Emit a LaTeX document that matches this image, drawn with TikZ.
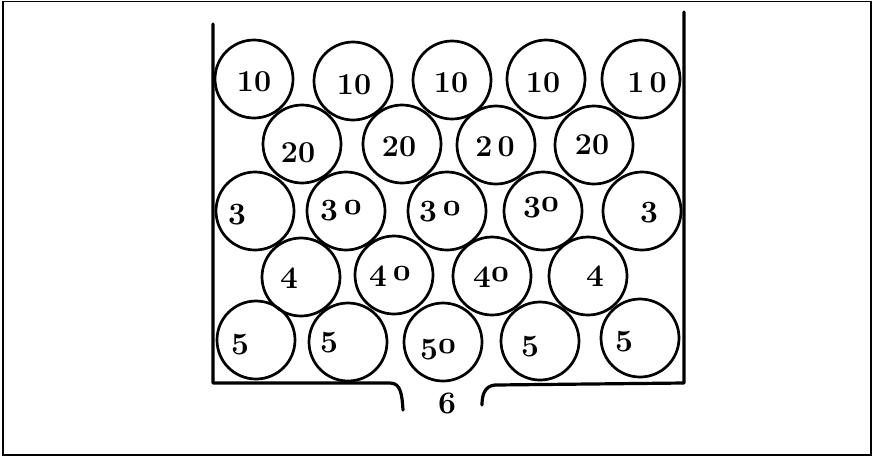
\documentclass[tikz,border=0pt]{standalone}
\newcommand\osnum[1]{{\usefont{OML}{cmm}{b}{it}#1}}
\begin{document}
\begin{tikzpicture}[x=1pt,y=-1pt,
  ball/.style={circle,draw,line width=2.7pt,minimum size=78pt,inner sep=0pt},
  bnum/.style={font=\fontsize{24.88}{26}\selectfont\bfseries,inner sep=0pt,scale=1.22},
  onum/.style={font=\fontsize{24.88}{26}\selectfont,inner sep=0pt,scale=1.25},
  wall/.style={line width=3.2pt,line cap=round,line join=round}]
\useasboundingbox (0,0) rectangle (874,459);
\draw[line width=1.5pt] (3,1.5) rectangle (871,455);
% balls
\node[ball] (a1) at (254,79) {};
\node[ball] (a2) at (353,81) {};
\node[ball] (a3) at (452,80) {};
\node[ball] (a4) at (546,79) {};
\node[ball] (a5) at (641,79) {};
\node[ball] (b1) at (302,144) {};
\node[ball] (b2) at (402,144) {};
\node[ball] (b3) at (496,145) {};
\node[ball] (b4) at (594,145) {};
\node[ball] (c1) at (255,211) {};
\node[ball] (c2) at (346,211) {};
\node[ball] (c3) at (447,211) {};
\node[ball] (c4) at (543,211) {};
\node[ball] (c5) at (642,211) {};
\node[ball] (d1) at (301,277) {};
\node[ball] (d2) at (394,275) {};
\node[ball] (d3) at (492,276) {};
\node[ball] (d4) at (588,276) {};
\node[ball] (e1) at (256,340) {};
\node[ball] (e2) at (348,342) {};
\node[ball] (e3) at (443,342) {};
\node[ball] (e4) at (540,341) {};
\node[ball] (e5) at (640,338) {};
% labels
\node[bnum] (la1) at (254,82) {10};
\node[bnum] (la2) at (354,85) {10};
\node[bnum] (la3) at (451,83) {10};
\node[bnum] (la4) at (543,83) {10};
\node[bnum] (la5) at (647,83) {1\,0};
\node[bnum] (lb1) at (298,153) {20};
\node[bnum] (lb2) at (399,147) {20};
\node[bnum] (lb3) at (495,147) {2\,0};
\node[bnum] (lb4) at (592,145) {20};
\node[onum] (lc1) at (237,215) {\osnum{3}};
\node[onum] (lc2) at (341,211) {\osnum{3\,0}};
\node[onum] (lc3) at (440,212) {\osnum{3\,0}};
\node[onum] (lc4) at (541,208) {\osnum{30}};
\node[onum] (lc5) at (649,213) {\osnum{3}};
\node[onum] (ld1) at (289,279) {\osnum{4}};
\node[onum] (ld2) at (390,277) {\osnum{4\,0}};
\node[onum] (ld3) at (491,278) {\osnum{40}};
\node[onum] (ld4) at (595,277) {\osnum{4}};
\node[onum] (le1) at (240,345) {\osnum{5}};
\node[onum] (le2) at (329,343) {\osnum{5}};
\node[onum] (le3) at (438,350) {\osnum{50}};
\node[onum] (le4) at (530,347) {\osnum{5}};
\node[onum] (le5) at (624,342) {\osnum{5}};
\node[onum] (l6) at (447,403) {\osnum{6}};
% container
\draw[wall] (213,24) -- (213,383) -- (390,383) .. controls (401,383) and (402,395) .. (403,410);
\draw[wall] (684,12) -- (684,383) -- (495,385) .. controls (484,386) and (482,396) .. (482,405);
\end{tikzpicture}
\end{document}
